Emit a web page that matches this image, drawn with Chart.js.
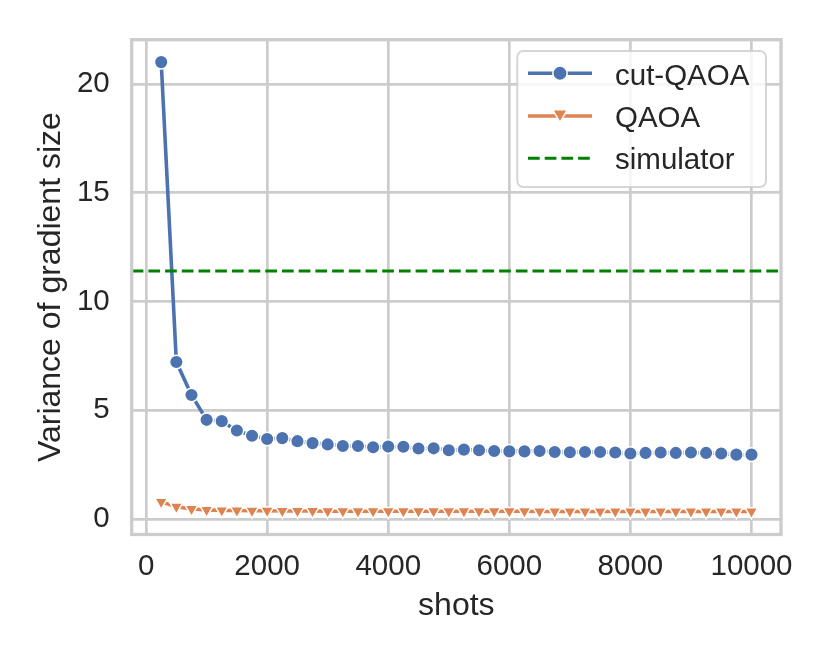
<!DOCTYPE html>
<html><head><meta charset="utf-8">
<script src="https://cdn.jsdelivr.net/npm/chart.js@4/dist/chart.umd.min.js"></script>
<style>html,body{margin:0;padding:0;background:#fff;}#wrap{width:830px;height:664px;}</style>
</head><body><div id="wrap"><canvas id="c" width="830" height="664" style="width:830px;height:664px"></canvas></div>
<script>
const shots = [250,500,750,1000,1250,1500,1750,2000,2250,2500,2750,3000,3250,3500,3750,4000,4250,4500,4750,5000,
  5250,5500,5750,6000,6250,6500,6750,7000,7250,7500,7750,8000,8250,8500,8750,9000,9250,9500,9750,10000];
const cutQAOA = [21.0,7.22,5.70,4.56,4.50,4.07,3.83,3.68,3.72,3.58,3.49,3.43,3.36,3.36,3.30,3.33,3.32,3.24,3.25,3.16,
  3.19,3.16,3.13,3.11,3.11,3.13,3.08,3.07,3.08,3.08,3.06,3.01,3.04,3.06,3.04,3.06,3.04,3.01,2.96,2.96];
const qaoa = [0.79,0.57,0.46,0.42,0.40,0.39,0.38,0.38,0.37,0.37,0.37,0.36,0.36,0.36,0.36,0.36,0.36,0.36,0.36,0.36,
  0.36,0.36,0.36,0.36,0.36,0.35,0.35,0.35,0.35,0.35,0.35,0.35,0.35,0.35,0.35,0.35,0.35,0.35,0.35,0.35];
const simulatorValue = 11.40;
const seriesLabels = ['cut-QAOA','QAOA','simulator'];
const xTicks = [0,2000,4000,6000,8000,10000];
const yTicks = [0,5,10,15,20];
const xLimits = [-237.5, 10487.5];
const yLimits = [-0.71, 22.03];
const xTitle = 'shots';
const yTitle = 'Variance of gradient size';

const BLUE='#4c72b0', ORANGE='#dd8452', GREEN='#008000', GRID='#cccccc', TEXT='#262626';
const FAMILY="'Liberation Sans', Arial, Helvetica, sans-serif";
Chart.defaults.font.family = FAMILY;
Chart.defaults.color = TEXT;

function drawTri(ctx,x,y,r){
  let rad=Math.PI; ctx.beginPath();
  ctx.moveTo(x+Math.sin(rad)*r,y-Math.cos(rad)*r);
  rad+=2*Math.PI/3; ctx.lineTo(x+Math.sin(rad)*r,y-Math.cos(rad)*r);
  rad+=2*Math.PI/3; ctx.lineTo(x+Math.sin(rad)*r,y-Math.cos(rad)*r);
  ctx.closePath();
}

const framePlugin = {
  id:'frameLegend',
  afterDatasetsDraw(chart){
    const {ctx, chartArea:a} = chart;
    ctx.save();
    ctx.strokeStyle=GRID; ctx.lineWidth=3.3;
    ctx.strokeRect(a.left,a.top,a.right-a.left,a.bottom-a.top);
    ctx.restore();
  },
  afterDraw(chart){
    const ctx=chart.ctx;
    ctx.save();
    const lx=517.3, ly=51, lw=248.7, lh=136, r=6;
    ctx.beginPath();
    ctx.moveTo(lx+r,ly); ctx.lineTo(lx+lw-r,ly); ctx.arcTo(lx+lw,ly,lx+lw,ly+r,r);
    ctx.lineTo(lx+lw,ly+lh-r); ctx.arcTo(lx+lw,ly+lh,lx+lw-r,ly+lh,r);
    ctx.lineTo(lx+r,ly+lh); ctx.arcTo(lx,ly+lh,lx,ly+lh-r,r);
    ctx.lineTo(lx,ly+r); ctx.arcTo(lx,ly,lx+r,ly,r); ctx.closePath();
    ctx.fillStyle='rgba(255,255,255,0.8)'; ctx.fill();
    ctx.strokeStyle='rgba(204,204,204,0.8)'; ctx.lineWidth=2; ctx.stroke();
    const ds=chart.data.datasets;
    const hy=[73.3,116,158.3], by=[85,127,169];
    for(let i=0;i<ds.length;i++){
      const d=ds[i];
      ctx.beginPath(); ctx.moveTo(528,hy[i]); ctx.lineTo(592,hy[i]);
      ctx.strokeStyle=d.borderColor; ctx.lineWidth=d.borderWidth;
      ctx.setLineDash(d.borderDash||[]); ctx.stroke(); ctx.setLineDash([]);
      if(d.pointStyle==='circle'){
        ctx.beginPath(); ctx.arc(560,hy[i],7.2,0,Math.PI*2);
        ctx.fillStyle=d.pointBackgroundColor; ctx.fill();
        ctx.strokeStyle='#fff'; ctx.lineWidth=1.5; ctx.stroke();
      } else if(d.pointStyle==='triangle'){
        drawTri(ctx,560,hy[i]-2,8.4);
        ctx.fillStyle=d.pointBackgroundColor; ctx.fill();
        ctx.strokeStyle='#fff'; ctx.lineWidth=1.5; ctx.stroke();
      }
      ctx.fillStyle=TEXT; ctx.font='29.5px '+FAMILY; ctx.textBaseline='alphabetic'; ctx.textAlign='left';
      ctx.fillText(d.label,615,by[i]);
    }
    ctx.restore();
  }
};

new Chart(document.getElementById('c'),{
  type:'line',
  data:{datasets:[
    {label:seriesLabels[0], data:shots.map((s,i)=>({x:s,y:cutQAOA[i]})), borderColor:BLUE, backgroundColor:BLUE,
     borderWidth:3.6, pointStyle:'circle', pointRadius:6.8, pointBackgroundColor:BLUE, pointBorderColor:'#fff',
     pointBorderWidth:1.5, tension:0, order:3},
    {label:seriesLabels[1], data:shots.map((s,i)=>({x:s,y:qaoa[i]})), borderColor:ORANGE, backgroundColor:ORANGE,
     borderWidth:3.6, pointStyle:'triangle', pointRotation:180, pointRadius:7.4, pointBackgroundColor:ORANGE,
     pointBorderColor:'#fff', pointBorderWidth:1.5, tension:0, order:2},
    {label:seriesLabels[2], data:[{x:xLimits[0],y:simulatorValue},{x:xLimits[1],y:simulatorValue}],
     borderColor:GREEN, backgroundColor:GREEN, borderWidth:3, borderDash:[11.7,5], pointRadius:0, order:1}
  ]},
  options:{
    responsive:false, animation:false, events:[],
    layout:{padding:{top:35,right:49,left:0,bottom:0}},
    plugins:{legend:{display:false},tooltip:{enabled:false}},
    scales:{
      x:{type:'linear', min:xLimits[0], max:xLimits[1],
        afterBuildTicks:s=>{s.ticks=xTicks.map(v=>({value:v}));},
        afterFit:s=>{s.height=129.5;},
        ticks:{font:{size:29.5}, color:TEXT, padding:15, maxRotation:0, autoSkip:false, callback:v=>String(v)},
        grid:{color:GRID, lineWidth:2.7, drawTicks:false},
        border:{display:false},
        title:{display:true, text:xTitle, color:TEXT, font:{size:32}, padding:{top:0,bottom:39}}},
      y:{type:'linear', min:yLimits[0], max:yLimits[1],
        afterBuildTicks:s=>{s.ticks=yTicks.map(v=>({value:v}));},
        afterFit:s=>{s.width=131.7;},
        ticks:{font:{size:29.5}, color:TEXT, padding:22, autoSkip:false, callback:v=>String(v)},
        grid:{color:GRID, lineWidth:2.7, drawTicks:false},
        border:{display:false},
        title:{display:true, text:yTitle, color:TEXT, font:{size:32}, padding:{top:32,bottom:0}}}
    }
  },
  plugins:[framePlugin]
});
</script></body></html>
